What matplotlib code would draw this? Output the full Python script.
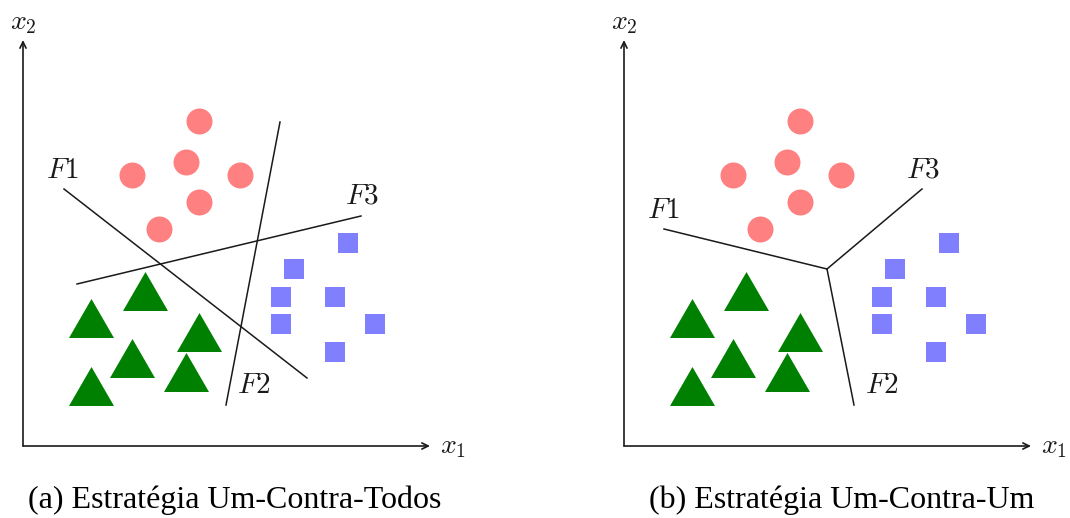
import matplotlib
matplotlib.use("Agg")
import matplotlib.pyplot as plt
import numpy as np

plt.rcParams['mathtext.fontset'] = 'cm'

# Data (coordinates relative to each panel's origin, in pixel-like units)
circle_x = [176, 163, 109, 217, 176, 136]
circle_y = [325, 284, 271, 271, 244, 217]
square_x = [325, 271, 258, 312, 258, 352, 312]
square_y = [203, 177, 149, 149, 122, 122, 94]
tri_x = [122, 68, 176, 109, 163, 68]
tri_y = [155.5, 128, 114.5, 88, 74.5, 60.5]

# Panel (a): one-vs-all separating lines
a_lines = {
    "$F1$": ([41, 284], [257, 68]),
    "$F2$": ([257, 203], [324, 41]),
    "$F3$": ([54, 338], [162, 230]),
}
a_labels = {"$F1$": (40, 276), "$F2$": (231, 61), "$F3$": (339, 251)}

# Panel (b): one-vs-one boundaries from a junction
b_junction = (203, 177)
b_ends = {"$F1$": (40, 217), "$F2$": (230, 41), "$F3$": (298, 257)}
b_labels = {"$F1$": (40, 236), "$F2$": (258, 61), "$F3$": (299, 276)}

captions = ["(a) Estratégia Um-Contra-Todos", "(b) Estratégia Um-Contra-Um"]

W, H = 1070, 518
fig = plt.figure(figsize=(W / 100, H / 100), dpi=100)

red = "#FF8080"
blue = "#8080FF"
green = "#008000"
ink = "#1a1a1a"
tri_marker = [(-1, -0.866), (1, -0.866), (0, 0.866)]


def make_axes(px_left, ox):
    width = 535
    ax = fig.add_axes([px_left / W, 0, width / W, 1])
    ax.set_xlim(px_left - ox, px_left + width - ox)
    ax.set_ylim(446 - H, 446)
    ax.axis('off')
    return ax


def draw_common(ax):
    kw = dict(arrowstyle='->,head_length=0.45,head_width=0.22', lw=1.2, color=ink,
              shrinkA=0, shrinkB=0)
    ax.annotate('', xy=(407, 0), xytext=(0, 0), arrowprops=kw)
    ax.annotate('', xy=(0, 406), xytext=(0, 0), arrowprops=kw)
    ax.text(417, 0, '$x_1$', fontsize=20, ha='left', va='center', color=ink)
    ax.text(0, 424, '$x_2$', fontsize=20, ha='center', va='center', color=ink)
    ax.scatter(circle_x, circle_y, s=(26 * 0.72) ** 2, marker='o', color=red, lw=0)
    ax.scatter(square_x, square_y, s=(20 * 0.72) ** 2, marker='s', color=blue, lw=0)
    ax.scatter(tri_x, tri_y, s=(45 * 0.72) ** 2, marker=tri_marker, color=green, lw=0)


ax1 = make_axes(0, 23)
draw_common(ax1)
for name, (xs, ys) in a_lines.items():
    ax1.plot(xs, ys, color=ink, lw=1.1)
for name, (x, y) in a_labels.items():
    ax1.text(x, y, name, fontsize=21, ha='center', va='center', color=ink)

ax2 = make_axes(535, 624)
draw_common(ax2)
for name, (x, y) in b_ends.items():
    ax2.plot([b_junction[0], x], [b_junction[1], y], color=ink, lw=1.1)
for name, (x, y) in b_labels.items():
    ax2.text(x, y, name, fontsize=21, ha='center', va='center', color=ink)

fig.text(235 / W, 1 - 500 / H, captions[0], fontsize=23, family='Liberation Serif',
         ha='center', va='center')
fig.text(842 / W, 1 - 500 / H, captions[1], fontsize=23, family='Liberation Serif',
         ha='center', va='center')

fig.savefig('out.png', dpi=100)
